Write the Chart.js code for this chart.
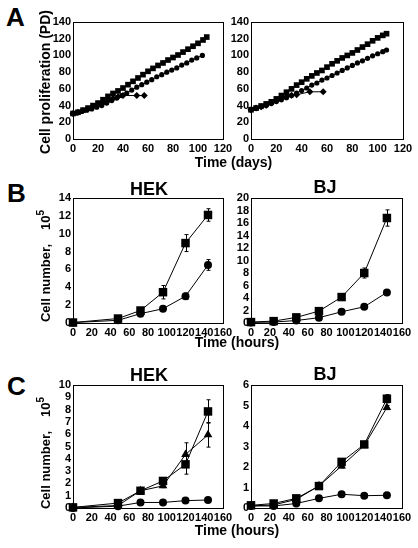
<!DOCTYPE html>
<html>
<head>
<meta charset="utf-8">
<script src="https://cdn.jsdelivr.net/npm/chart.js@4"></script>
<style>
  html, body { margin: 0; padding: 0; background: #fff; }
  body { width: 418px; height: 548px; position: relative; overflow: hidden;
         font-family: "Liberation Sans", Arial, sans-serif; font-weight: bold; color: #000; }
  canvas { position: absolute; }
  .lbl { position: absolute; white-space: nowrap; line-height: 1; }
  .lbl sup { font-size: 10px; vertical-align: 0.55em; line-height: 0; }
</style>
</head>
<body>
<script>
/* ---------- data ---------- */

// A: population doublings vs days
const aLeftSqDays  = [0,4,8,12,16,20,24,28,32,36,40,44,48,52,56,60,64,68,72,76,80,84,88,92,96,100,104,107];
const aLeftSqPD    = [30.5,32,34.5,37,40,43,47,51,54.5,57.5,61,65,69,73,77,81,84.5,88,91,94.5,97.5,100.5,104,107.5,111,114.5,118.5,122];
const aLeftCiDays  = [0,3,7,11,15,19,23,27,31,35,39,43,47,51,55,59,63,67,71,75,79,83,87,91,95,99,103.5];
const aLeftCiPD    = [30.5,31,33,34.5,36,38,40,43,46,49,52,55,58.5,62,65,68,71,74.5,77,80,82.5,85,88.5,91,94.5,97,100];
const aLeftDiDays  = [0,4,8,12,16,20,24,28,32,36,40,51,57];
const aLeftDiPD    = [30.5,32,34,36,38.5,41,43.5,46,48.5,50.5,52,52,52];

const aRightSqDays = [0,4,8,12,16,20,24,28,32,36,40,44,48,52,56,60,64,68,72,76,80,84,88,92,96,100,104,107];
const aRightSqPD   = [35,37,39.5,42,44.5,48,52,56,60,64.5,68,72,75.5,79,82,86,90,93.5,97,100,103,106.5,110,113.5,117.5,121,124,126];
const aRightCiDays = [0,4,8,12,16,20,24,28,32,36,40,44,48,52,56,60,64,68,72,76,80,84,88,92,96,100,104,107];
const aRightCiPD   = [35,37,38.5,40,42.5,45,47,49.5,52,55,58,61,64.5,67,70.5,73,76,79,82,85,88,91,93.5,96.5,99.5,102,104.5,106.5];
const aRightDiDays = [0,4,8,12,16,20,24,28,32,36,46.5,57];
const aRightDiPD   = [35,37,38.5,40.5,43,45.5,48,50.5,52.5,53,56.5,56.5];

// B and C: cell number (x 10^5) vs hours
const hekHours = [0,48,72,96,120,144];
const bjHours  = [0,24,48,72,96,120,144];

const bHekSq    = [0.05,0.5,1.4,3.45,8.95,12.1];
const bHekSqErr = [0,0.1,0.15,0.75,0.95,0.7];
const bHekCi    = [0.05,0.3,1.05,1.6,3.0,6.5];
const bHekCiErr = [0,0.05,0.1,0.15,0.35,0.6];

const bBjSq     = [0.15,0.3,0.9,1.9,4.15,8.0,16.8];
const bBjSqErr  = [0,0,0.1,0.2,0.3,0.8,1.3];
const bBjCi     = [0.1,0.15,0.4,0.85,1.8,2.6,4.9];
const bBjCiErr  = [0,0,0,0.1,0.1,0.15,0.3];

const cHekSq     = [0.05,0.4,1.4,2.2,3.55,7.85];
const cHekSqErr  = [0,0.05,0.1,0.2,0.8,0.95];
const cHekTri    = [0.05,0.2,1.4,1.8,4.35,5.95];
const cHekTriErr = [0,0,0.1,0.15,0.95,1.0];
const cHekCi     = [0,0.15,0.45,0.45,0.6,0.65];
const cHekCiErr  = [0,0,0.05,0.05,0.1,0.15];

const cBjSq      = [0.13,0.22,0.47,1.07,2.25,3.1,5.33];
const cBjSqErr   = [0,0,0.05,0.05,0.1,0.1,0.2];
const cBjTri     = [0.1,0.15,0.42,1.08,2.05,3.05,4.9];
const cBjTriErr  = [0,0,0,0.05,0.1,0.1,0.1];
const cBjCi      = [0.1,0.1,0.22,0.47,0.67,0.6,0.62];
const cBjCiErr   = [0,0,0,0.05,0.05,0.05,0.05];

/* ---------- helpers ---------- */

const FONT = { family: '"Liberation Sans", Arial, sans-serif', size: 11, weight: 'bold' };

const framePlugin = {
  id: 'frame',
  beforeDatasetsDraw(chart) {
    const { ctx, chartArea: a } = chart;
    ctx.save();
    ctx.strokeStyle = '#000';
    ctx.lineWidth = 1;
    ctx.strokeRect(Math.round(a.left) + 0.5, Math.round(a.top) + 0.5,
                   Math.round(a.right - a.left), Math.round(a.bottom - a.top));
    ctx.restore();
  }
};

const errorPlugin = {
  id: 'errbars',
  afterDatasetsDraw(chart) {
    const { ctx } = chart;
    const ys = chart.scales.y;
    chart.data.datasets.forEach((ds, i) => {
      if (!ds.errors) return;
      const meta = chart.getDatasetMeta(i);
      ctx.save();
      ctx.strokeStyle = '#000';
      ctx.lineWidth = 1;
      meta.data.forEach((pt, j) => {
        const e = ds.errors[j];
        if (!e) return;
        const v = ds.data[j].y;
        const y1 = ys.getPixelForValue(v + e), y2 = ys.getPixelForValue(v - e);
        const x = Math.round(pt.x) + 0.5;
        ctx.beginPath();
        ctx.moveTo(x, y1); ctx.lineTo(x, y2);
        ctx.moveTo(x - 2, y1); ctx.lineTo(x + 2, y1);
        ctx.moveTo(x - 2, y2); ctx.lineTo(x + 2, y2);
        ctx.stroke();
      });
      ctx.restore();
    });
  }
};

function pts(xs, ys) {
  return xs.map((x, i) => ({ x, y: ys[i] }));
}

function series(xs, ys, style, radius, errors) {
  return {
    data: pts(xs, ys),
    showLine: true,
    borderColor: '#000',
    borderWidth: 1,
    pointStyle: style,
    pointRadius: radius,
    pointBackgroundColor: '#000',
    pointBorderColor: '#000',
    pointBorderWidth: 0,
    clip: false,
    errors
  };
}

function makeChart(box, xMax, xStep, yMax, yStep, datasets) {
  const PL = 34, PT = 10, PR = 16, PB = 20;
  const w = box.r - box.l + PL + PR, h = box.b - box.t + PT + PB;
  const cv = document.createElement('canvas');
  cv.width = w; cv.height = h;
  cv.style.left = (box.l - PL) + 'px';
  cv.style.top = (box.t - PT) + 'px';
  cv.style.width = w + 'px';
  cv.style.height = h + 'px';
  document.body.appendChild(cv);

  return new Chart(cv, {
    type: 'scatter',
    data: { datasets },
    options: {
      responsive: false,
      animation: false,
      devicePixelRatio: 1,
      layout: { padding: { left: 0, top: PT, right: PR, bottom: 0 } },
      plugins: { legend: { display: false }, tooltip: { enabled: false } },
      scales: {
        x: {
          type: 'linear', min: 0, max: xMax,
          grid: { display: false, drawTicks: false },
          border: { display: false },
          ticks: { stepSize: xStep, autoSkip: false, maxRotation: 0, padding: 3, color: '#000', font: FONT },
          afterFit: s => { s.height = PB; }
        },
        y: {
          type: 'linear', min: 0, max: yMax,
          grid: { display: false, drawTicks: false },
          border: { display: false },
          ticks: { stepSize: yStep, autoSkip: false, padding: 2, color: '#000', font: FONT },
          afterFit: s => { s.width = PL; }
        }
      }
    },
    plugins: [framePlugin, errorPlugin]
  });
}

function text(html, x, baseline, size, center) {
  const d = document.createElement('div');
  d.className = 'lbl';
  d.innerHTML = html;
  d.style.fontSize = size + 'px';
  d.style.left = x + 'px';
  d.style.top = (baseline - 0.8465 * size) + 'px';
  if (center) d.style.transform = 'translateX(-50%)';
  document.body.appendChild(d);
}

function vtext(html, baselineX, cy, size) {
  const d = document.createElement('div');
  d.className = 'lbl';
  d.innerHTML = html;
  d.style.fontSize = size + 'px';
  d.style.left = (baselineX - 0.3465 * size) + 'px';
  d.style.top = cy + 'px';
  d.style.transform = 'translate(-50%,-50%) rotate(-90deg)';
  document.body.appendChild(d);
}

/* ---------- panels ---------- */

makeChart({ l: 73, t: 22, r: 223, b: 139 }, 120, 20, 140, 20, [
  series(aLeftSqDays, aLeftSqPD, 'rect', 4),
  series(aLeftCiDays, aLeftCiPD, 'circle', 2.6),
  series(aLeftDiDays, aLeftDiPD, 'rectRot', 3.5)
]);
makeChart({ l: 251, t: 22, r: 403, b: 139 }, 120, 20, 140, 20, [
  series(aRightSqDays, aRightSqPD, 'rect', 4),
  series(aRightCiDays, aRightCiPD, 'circle', 2.6),
  series(aRightDiDays, aRightDiPD, 'rectRot', 3.5)
]);

makeChart({ l: 73, t: 198, r: 223, b: 323 }, 160, 20, 14, 2, [
  series(hekHours, bHekSq, 'rect', 6, bHekSqErr),
  series(hekHours, bHekCi, 'circle', 4, bHekCiErr)
]);
makeChart({ l: 251, t: 198, r: 402, b: 323 }, 160, 20, 20, 2, [
  series(bjHours, bBjSq, 'rect', 6, bBjSqErr),
  series(bjHours, bBjCi, 'circle', 4, bBjCiErr)
]);

makeChart({ l: 73, t: 385, r: 223, b: 508 }, 160, 20, 10, 1, [
  series(hekHours, cHekSq, 'rect', 6, cHekSqErr),
  series(hekHours, cHekTri, 'triangle', 5, cHekTriErr),
  series(hekHours, cHekCi, 'circle', 4, cHekCiErr)
]);
makeChart({ l: 251, t: 385, r: 402, b: 508 }, 160, 20, 6, 1, [
  series(bjHours, cBjSq, 'rect', 6, cBjSqErr),
  series(bjHours, cBjTri, 'triangle', 5, cBjTriErr),
  series(bjHours, cBjCi, 'circle', 4, cBjCiErr)
]);

/* ---------- text ---------- */

text('A', 6, 26, 26);
text('B', 7, 202, 26);
text('C', 7, 395, 26);

text('HEK', 149, 195, 18, true);
text('BJ', 325, 193, 18, true);
text('HEK', 149, 381.5, 18, true);
text('BJ', 325, 380, 18, true);

text('Time (days)', 233.5, 166.5, 14, true);
text('Time (hours)', 237, 347, 14, true);
text('Time (hours)', 237, 535, 14, true);

vtext('Cell proliferation (PD)', 50, 82, 14);
vtext('Cell number,<span style="margin-left:14px">10<sup>5</sup></span>', 49.5, 266, 13);
vtext('Cell number,<span style="margin-left:14px">10<sup>5</sup></span>', 49.5, 453, 13);
</script>
</body>
</html>
